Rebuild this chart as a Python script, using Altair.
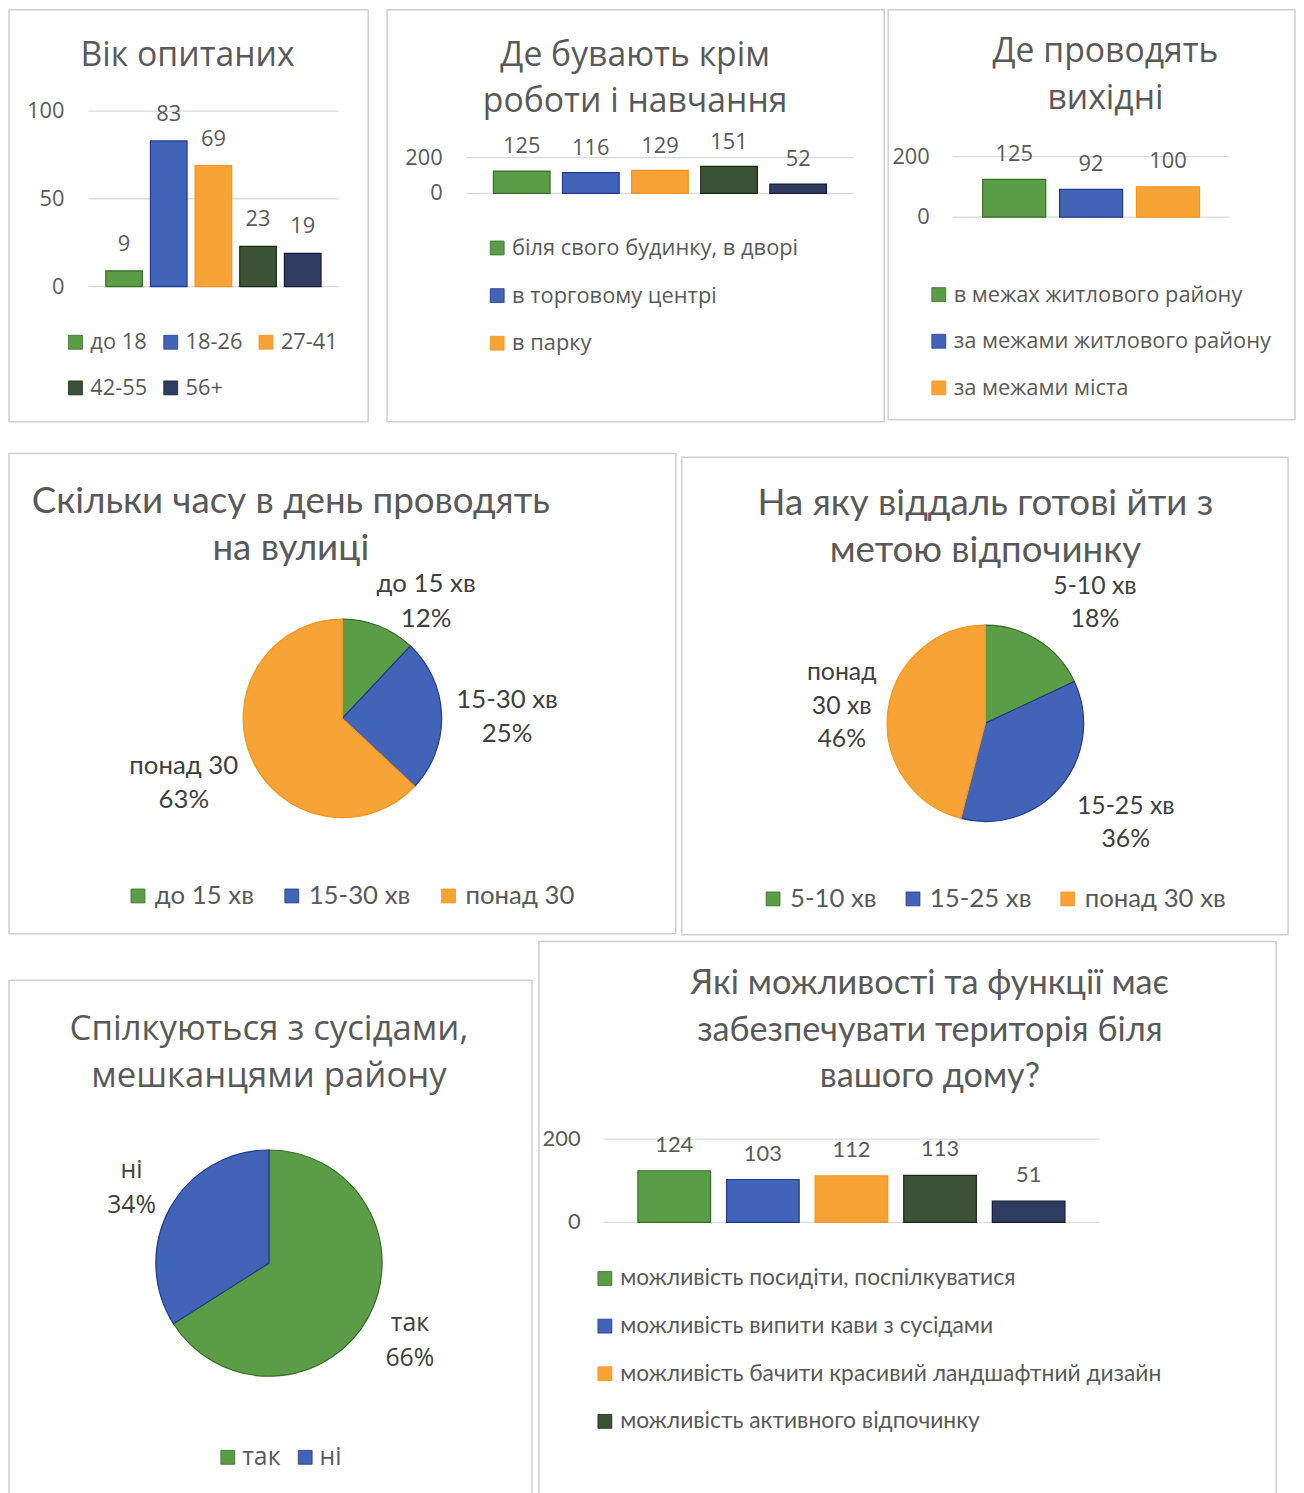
import altair as alt
import pandas as pd

# ---------------- data ----------------
age_cats = ["до 18", "18-26", "27-41", "42-55", "56+"]
age_vals = [9, 83, 69, 23, 19]

place_cats = ["біля свого будинку, в дворі", "в торговому центрі", "в парку", "категорія 4", "категорія 5"]
place_vals = [125, 116, 129, 151, 52]
place_legend = ["біля свого будинку, в дворі", "в торговому центрі", "в парку"]

weekend_cats = ["в межах житлового району", "за межами житлового району", "за межами міста"]
weekend_vals = [125, 92, 100]

time_cats = ["до 15 хв", "15-30 хв", "понад 30"]
time_names = ["до 15 хв", "15-30 хв", "понад 30"]
time_vals = [12, 25, 63]

dist_cats = ["5-10 хв", "15-25 хв", "понад 30 хв"]
dist_names = ["5-10 хв", "15-25 хв", "понад\n30 хв"]
dist_vals = [18, 36, 46]

talk_cats = ["так", "ні"]
talk_names = ["так", "ні"]
talk_vals = [66, 34]

func_cats = ["можливість посидіти, поспілкуватися", "можливість випити кави з сусідами",
             "можливість бачити красивий ландшафтний дизайн", "можливість активного відпочинку",
             "категорія 5"]
func_vals = [124, 103, 112, 113, 51]
func_legend = func_cats[:4]

age_ticks = [0, 50, 100]
cnt_ticks = [0, 200]

titles = {
    "age": ["Вік опитаних"],
    "place": ["Де бувають крім", "роботи і навчання"],
    "weekend": ["Де проводять", "вихідні"],
    "time": ["Скільки часу в день проводять", "на вулиці"],
    "dist": ["На яку віддаль готові йти з", "метою відпочинку"],
    "talk": ["Спілкуються з сусідами,", "мешканцями району"],
    "func": ["Які можливості та функції має", "забезпечувати територія біля", "вашого дому?"],
}

FILL = ["#5b9c47", "#4264b8", "#f8a336", "#3c5236", "#2f3b5f"]
EDGE = ["#356e27", "#1f3a8c", "#ef9520", "#1b2818", "#141c38"]
GREY = "#595959"
BORDER = "#cfcfcf"
WIDE = "Open Sans"
NARROW = "Lato"


def title_layers(lines, x, y, font, size, lh):
    out = []
    for i, line in enumerate(lines):
        df = pd.DataFrame({"t": [line]})
        out.append(alt.Chart(df).mark_text(
            font=font, fontSize=size, color=GREY, align="center", baseline="middle",
        ).encode(text="t:N", x=alt.value(x), y=alt.value(y + i * lh)))
    return out


def bar_panel(key, cats, vals, legend_vals, W, H, t, g, leg, font):
    n = len(cats)
    df = pd.DataFrame({"cat": cats, "val": vals})
    ticks = pd.DataFrame({"val": g["ticks"]})
    yscale = alt.Scale(domain=[0, g["ymax"]], range=[g["y0"], g["y1"]], nice=False)
    xscale = alt.Scale(domain=cats, range=[g["x0"], g["x1"]], paddingInner=0.18, paddingOuter=0.39)
    Y = alt.Y("val:Q", scale=yscale, axis=None)
    X = alt.X("cat:N", scale=xscale, axis=None)
    legend = alt.Legend(
        title=None, orient="none", legendX=leg["x"], legendY=leg["y"],
        direction=leg["dir"], columns=leg["cols"], values=legend_vals, gridAlign=leg.get("align", "each"),
        symbolType="square", symbolSize=196, symbolStrokeColor="#333333", symbolStrokeWidth=0.8,
        labelFont=font, labelFontSize=leg["size"], labelColor=GREY, labelOffset=4,
        rowPadding=leg["rowpad"], columnPadding=leg["colpad"], labelLimit=700,
    )
    grid = alt.Chart(ticks).mark_rule(color="#d9d9d9", strokeWidth=1.3).encode(
        y=Y, x=alt.value(g["x0"]), x2=alt.value(g["x1"]))
    ylab = alt.Chart(ticks).mark_text(
        align="right", baseline="middle", font=font, fontSize=g["tsize"], color=GREY
    ).encode(y=Y, x=alt.value(g["lx"]), text="val:Q")
    bars = alt.Chart(df).mark_bar(strokeWidth=1.2).encode(
        x=X, y=Y,
        fill=alt.Fill("cat:N", scale=alt.Scale(domain=cats, range=FILL[:n]), legend=legend),
        stroke=alt.Stroke("cat:N", scale=alt.Scale(domain=cats, range=EDGE[:n]), legend=None),
    )
    vlab = alt.Chart(df).mark_text(
        baseline="middle", dy=-g["vdy"], font=font, fontSize=g["vsize"], color=GREY
    ).encode(x=X, y=Y, text="val:Q")
    ttl = title_layers(titles[key], t["x"], t["y"], font, t["size"], t["lh"])
    return alt.layer(grid, ylab, bars, vlab, *ttl).properties(
        width=W, height=H, view=alt.ViewBackground(stroke=BORDER, strokeWidth=1.5))


def pie_panel(key, cats, names, vals, W, H, t, p, leg, font):
    n = len(cats)
    total = sum(vals)
    labs = [f"{nm}\n{v}%" for nm, v in zip(names, vals)]
    df = pd.DataFrame({"cat": cats, "val": vals, "idx": list(range(n)), "lab": labs})
    tscale = alt.Scale(domain=[0, total])
    legend = alt.Legend(
        title=None, orient="none", legendX=leg["x"], legendY=leg["y"], direction="horizontal",
        symbolType="square", symbolSize=196, symbolStrokeColor="#333333", symbolStrokeWidth=0.8,
        labelFont=font, labelFontSize=leg["size"], labelColor=GREY, labelOffset=leg.get("off", 4),
        columnPadding=leg["colpad"], labelLimit=700,
    )
    arcs = alt.Chart(df).mark_arc(outerRadius=p["r"], strokeWidth=1.2).encode(
        theta=alt.Theta("val:Q", stack=True, scale=tscale), order=alt.Order("idx:Q"),
        fill=alt.Fill("cat:N", sort=cats, scale=alt.Scale(domain=cats, range=FILL[:n]), legend=legend),
        stroke=alt.Stroke("cat:N", scale=alt.Scale(domain=cats, range=EDGE[:n]), legend=None),
        x=alt.value(p["cx"]), y=alt.value(p["cy"]),
    )
    label_layers = []
    for i in range(n):
        r, dx, dy = p["nudge"][i]
        nl = labs[i].count("\n") + 1
        label_layers.append(
            alt.Chart(df)
            .transform_stack(stack="val", as_=["s0", "s1"], groupby=[], sort=[alt.SortField("idx")])
            .transform_calculate(mid="(datum.s0 + datum.s1) / 2")
            .transform_filter(alt.datum.idx == i)
            .mark_text(
                radius=r, dx=dx, dy=dy - (nl - 1) * p["llh"] / 2, lineBreak="\n", lineHeight=p["llh"],
                font=font, fontSize=p["lsize"], color="#404040", align="center", baseline="middle",
            )
            .encode(theta=alt.Theta("mid:Q", scale=tscale), text="lab:N",
                    x=alt.value(p["cx"]), y=alt.value(p["cy"]))
        )
    ttl = title_layers(titles[key], t["x"], t["y"], font, t["size"], t["lh"])
    return alt.layer(arcs, *label_layers, *ttl).properties(
        width=W, height=H, view=alt.ViewBackground(stroke=BORDER, strokeWidth=1.5))


def indep(c):
    return c.resolve_scale(fill="independent", stroke="independent", theta="independent",
                           x="independent", y="independent").resolve_legend(
        fill="independent", stroke="independent")


def spacer(w, h):
    return alt.Chart(pd.DataFrame({"a": [0]})).mark_point(opacity=0, size=0).encode(
        x=alt.value(1), y=alt.value(1)).properties(width=w, height=h)


p1 = bar_panel(
    "age", age_cats, age_vals, age_cats, 362, 415,
    t=dict(x=180, y=47, size=34, lh=46),
    g=dict(x0=80, x1=332, y0=279, y1=102, ymax=100, ticks=age_ticks, lx=56, tsize=22, vsize=22, vdy=27),
    leg=dict(x=56, y=324, dir="horizontal", cols=3, size=22, rowpad=24, colpad=12, align="all"),
    font=WIDE,
)
p2 = bar_panel(
    "place", place_cats, place_vals, place_legend, 501, 415,
    t=dict(x=250, y=47, size=34, lh=46),
    g=dict(x0=80, x1=470, y0=185, y1=149, ymax=200, ticks=cnt_ticks, lx=56, tsize=22, vsize=22, vdy=25),
    leg=dict(x=100, y=229, dir="vertical", cols=1, size=22, rowpad=26, colpad=8),
    font=WIDE,
)
p3 = bar_panel(
    "weekend", weekend_cats, weekend_vals, weekend_cats, 410, 413,
    t=dict(x=219, y=43, size=34, lh=47),
    g=dict(x0=65, x1=344, y0=209, y1=148, ymax=200, ticks=cnt_ticks, lx=42, tsize=22, vsize=22, vdy=26),
    leg=dict(x=40, y=276, dir="vertical", cols=1, size=22, rowpad=25, colpad=8),
    font=WIDE,
)
p4 = pie_panel(
    "time", time_cats, time_names, time_vals, 672, 484,
    t=dict(x=284, y=49, size=37, lh=47),
    p=dict(cx=336, cy=267, r=100, lsize=26, llh=35,
           nudge=[(145, 31, 17), (164, 2, 4), (172, -2, -3)]),
    leg=dict(x=117, y=433, size=26, colpad=25),
    font=NARROW,
)
p5 = pie_panel(
    "dist", dist_cats, dist_names, dist_vals, 611, 481,
    t=dict(x=306, y=47, size=37, lh=47),
    p=dict(cx=306, cy=268, r=99, lsize=25, llh=34,
           nudge=[(150, 30, 5), (168, 12, -7), (149, 3, 1)]),
    leg=dict(x=79, y=432, size=26, colpad=23),
    font=NARROW,
)
p6 = pie_panel(
    "talk", talk_cats, talk_names, talk_vals, 527, 530,
    t=dict(x=262, y=49, size=35, lh=48),
    p=dict(cx=262, cy=285, r=114, lsize=25, llh=35,
           nudge=[(162, 0, 0), (158, 0, 0)]),
    leg=dict(x=208, y=468, size=25, colpad=12, off=2),
    font=WIDE,
)
p7 = bar_panel(
    "func", func_cats, func_vals, func_legend, 743, 568,
    t=dict(x=394, y=43, size=34.5, lh=47),
    g=dict(x0=65, x1=565, y0=283, y1=199, ymax=200, ticks=cnt_ticks, lx=42, tsize=22, vsize=22, vdy=26),
    leg=dict(x=55, y=328, dir="vertical", cols=1, size=23, rowpad=24, colpad=8),
    font=NARROW,
)

row1 = indep(alt.hconcat(p1, indep(alt.hconcat(p2, p3, spacing=2)), spacing=17))
row2 = indep(alt.hconcat(p4, indep(alt.vconcat(spacer(611, 3), p5, spacing=0)), spacing=4))
row3 = indep(alt.hconcat(indep(alt.vconcat(spacer(527, 38), p6, spacing=0)), p7, spacing=5))

chart = indep(alt.vconcat(row1, indep(alt.vconcat(row2, row3, spacing=5)), spacing=30)).properties(
    padding={"top": -5, "left": 0, "right": 0, "bottom": 0}, background="white"
).configure_view(strokeWidth=0)

chart.save("out.html", embed_options={"renderer": "svg", "actions": False})
